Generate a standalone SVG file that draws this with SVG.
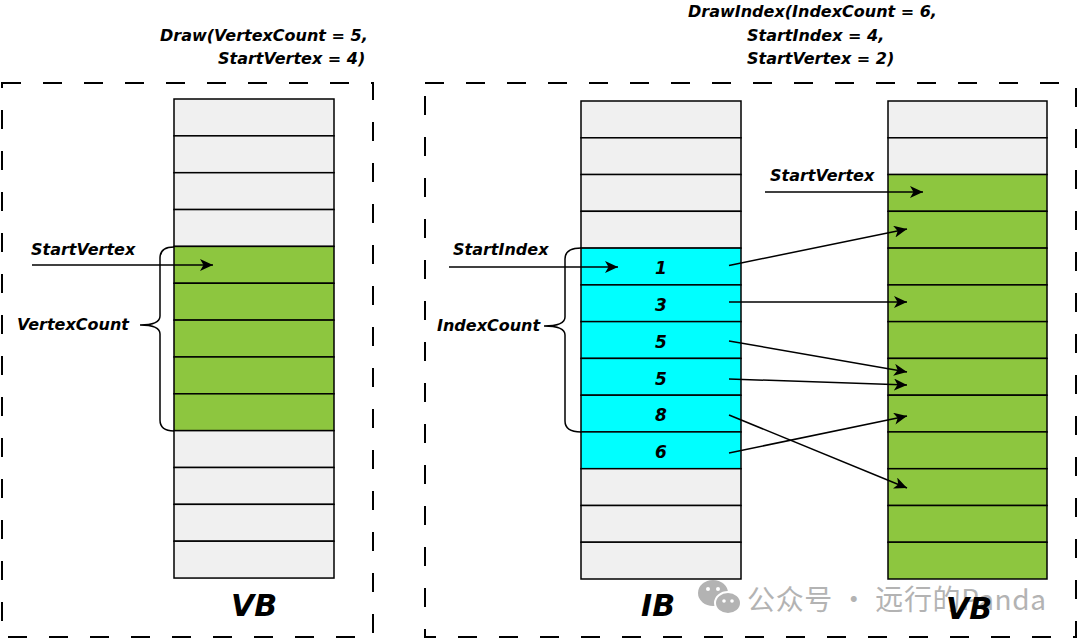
<svg xmlns="http://www.w3.org/2000/svg" width="1080" height="641" viewBox="0 0 1080 641">
<style>
.t{font-family:"DejaVu Sans","Liberation Sans",sans-serif;font-weight:bold;font-style:italic;font-size:16px;fill:#000}
.big{font-size:30px}
.num{font-size:17px;text-anchor:middle}
.g{fill:#f0f0f0;stroke:#000;stroke-width:1.5}
.v{fill:#8dc63f;stroke:#000;stroke-width:1.5}
.c{fill:#00ffff;stroke:#000;stroke-width:1.5}
.box{fill:none;stroke:#000;stroke-width:2;stroke-dasharray:19 22}
.br{fill:none;stroke:#000;stroke-width:1.5}
.ar{fill:none;stroke:#000;stroke-width:1.5;marker-end:url(#ah)}
.wm{font-family:"Noto Sans CJK SC","Noto Sans",sans-serif;font-size:28px;fill:#b3b3b3}
</style>
<defs>
<marker id="ah" markerUnits="userSpaceOnUse" markerWidth="14" markerHeight="12" refX="13" refY="6" orient="auto" viewBox="0 0 14 12">
<path d="M0,0 L13,6 L0,12 L3.5,6 Z" fill="#000"/>
</marker>
</defs>
<rect width="1080" height="641" fill="#fff"/>

<g id="container-left"><rect class="box" x="2" y="83" width="371" height="554"/></g>
<g id="container-right"><rect class="box" x="425" y="83" width="651" height="554"/></g>

<g id="title-draw">
<text class="t" x="160" y="41">Draw(VertexCount = 5,</text>
<text class="t" x="218" y="64">StartVertex = 4)</text>
</g>
<g id="title-drawindex">
<text class="t" x="688" y="17">DrawIndex(IndexCount = 6,</text>
<text class="t" x="747" y="41">StartIndex = 4,</text>
<text class="t" x="747" y="64">StartVertex = 2)</text>
</g>

<g id="vb-left">
<rect class="g" x="174" y="99" width="160" height="36.85"/>
<rect class="g" x="174" y="135.85" width="160" height="36.85"/>
<rect class="g" x="174" y="172.7" width="160" height="36.85"/>
<rect class="g" x="174" y="209.55" width="160" height="36.85"/>
<rect class="v" x="174" y="246.4" width="160" height="36.85"/>
<rect class="v" x="174" y="283.25" width="160" height="36.85"/>
<rect class="v" x="174" y="320.1" width="160" height="36.85"/>
<rect class="v" x="174" y="356.95" width="160" height="36.85"/>
<rect class="v" x="174" y="393.8" width="160" height="36.85"/>
<rect class="g" x="174" y="430.65" width="160" height="36.85"/>
<rect class="g" x="174" y="467.5" width="160" height="36.85"/>
<rect class="g" x="174" y="504.35" width="160" height="36.85"/>
<rect class="g" x="174" y="541.2" width="160" height="36.85"/>
<text class="t big" x="254" y="616" text-anchor="middle">VB</text>
</g>

<g id="ib">
<rect class="g" x="581" y="101" width="160" height="36.8"/>
<rect class="g" x="581" y="137.8" width="160" height="36.8"/>
<rect class="g" x="581" y="174.5" width="160" height="36.8"/>
<rect class="g" x="581" y="211.3" width="160" height="36.8"/>
<rect class="c" x="581" y="248.1" width="160" height="36.8"/>
<rect class="c" x="581" y="284.9" width="160" height="36.8"/>
<rect class="c" x="581" y="321.6" width="160" height="36.8"/>
<rect class="c" x="581" y="358.4" width="160" height="36.8"/>
<rect class="c" x="581" y="395.2" width="160" height="36.8"/>
<rect class="c" x="581" y="431.9" width="160" height="36.8"/>
<rect class="g" x="581" y="468.7" width="160" height="36.8"/>
<rect class="g" x="581" y="505.5" width="160" height="36.8"/>
<rect class="g" x="581" y="542.2" width="160" height="36.8"/>
<text class="t num" x="661" y="274">1</text>
<text class="t num" x="661" y="311">3</text>
<text class="t num" x="661" y="348">5</text>
<text class="t num" x="661" y="385">5</text>
<text class="t num" x="661" y="421">8</text>
<text class="t num" x="661" y="458">6</text>
<text class="t big" x="658" y="616" text-anchor="middle">IB</text>
</g>

<g id="vb-right">
<rect class="g" x="888" y="101" width="159" height="36.8"/>
<rect class="g" x="888" y="137.8" width="159" height="36.8"/>
<rect class="v" x="888" y="174.5" width="159" height="36.8"/>
<rect class="v" x="888" y="211.3" width="159" height="36.8"/>
<rect class="v" x="888" y="248.1" width="159" height="36.8"/>
<rect class="v" x="888" y="284.9" width="159" height="36.8"/>
<rect class="v" x="888" y="321.6" width="159" height="36.8"/>
<rect class="v" x="888" y="358.4" width="159" height="36.8"/>
<rect class="v" x="888" y="395.2" width="159" height="36.8"/>
<rect class="v" x="888" y="431.9" width="159" height="36.8"/>
<rect class="v" x="888" y="468.7" width="159" height="36.8"/>
<rect class="v" x="888" y="505.5" width="159" height="36.8"/>
<rect class="v" x="888" y="542.2" width="159" height="36.8"/>
</g>

<g id="label-startvertex-left"><text class="t" x="31" y="255">StartVertex</text></g>
<g id="label-vertexcount">
<text class="t" x="17" y="330">VertexCount</text>
<path class="br" d="M174,247 C165,247 160,250 160,258 L160,316 C160,322 154,325 140,325 C154,325 160,328 160,334 L160,420 C160,428 165,431 174,431"/>
</g>
<g id="label-startindex"><text class="t" x="453" y="255">StartIndex</text></g>
<g id="label-indexcount">
<text class="t" x="437" y="331">IndexCount</text>
<path class="br" d="M581,248 C571,248 565,251 565,259 L565,317 C565,323 558,326 544,326 C558,326 565,329 565,335 L565,421 C565,429 571,432 581,432"/>
</g>
<g id="label-startvertex-right"><text class="t" x="770" y="181">StartVertex</text></g>

<g id="connectors">
<line class="ar" x1="32" y1="265" x2="213" y2="265"/>
<line class="ar" x1="449" y1="267" x2="618" y2="267"/>
<line class="ar" x1="765" y1="192" x2="923" y2="192"/>
<line class="ar" x1="729" y1="265.5" x2="907" y2="229"/>
<line class="ar" x1="729" y1="302" x2="907" y2="302"/>
<line class="ar" x1="729" y1="341" x2="907" y2="372"/>
<line class="ar" x1="729" y1="379" x2="907" y2="385"/>
<line class="ar" x1="729" y1="415" x2="907" y2="488"/>
<line class="ar" x1="729" y1="453" x2="907" y2="416"/>
</g>

<g id="watermark">
<ellipse cx="713" cy="593" rx="15" ry="13" fill="#b3b3b3"/>
<ellipse cx="728" cy="603" rx="13" ry="11" fill="#b3b3b3" stroke="#fff" stroke-width="2"/>
<circle cx="708" cy="589" r="2" fill="#fff"/>
<circle cx="718" cy="589" r="2" fill="#fff"/>
<circle cx="724" cy="601" r="1.8" fill="#fff"/>
<circle cx="732" cy="601" r="1.8" fill="#fff"/>
<text class="wm" x="747" y="610" textLength="299" lengthAdjust="spacing">公众号 · 远行的Panda</text>
</g>

<g id="label-vb-right"><text class="t big" x="969" y="619" text-anchor="middle">VB</text></g>
</svg>
